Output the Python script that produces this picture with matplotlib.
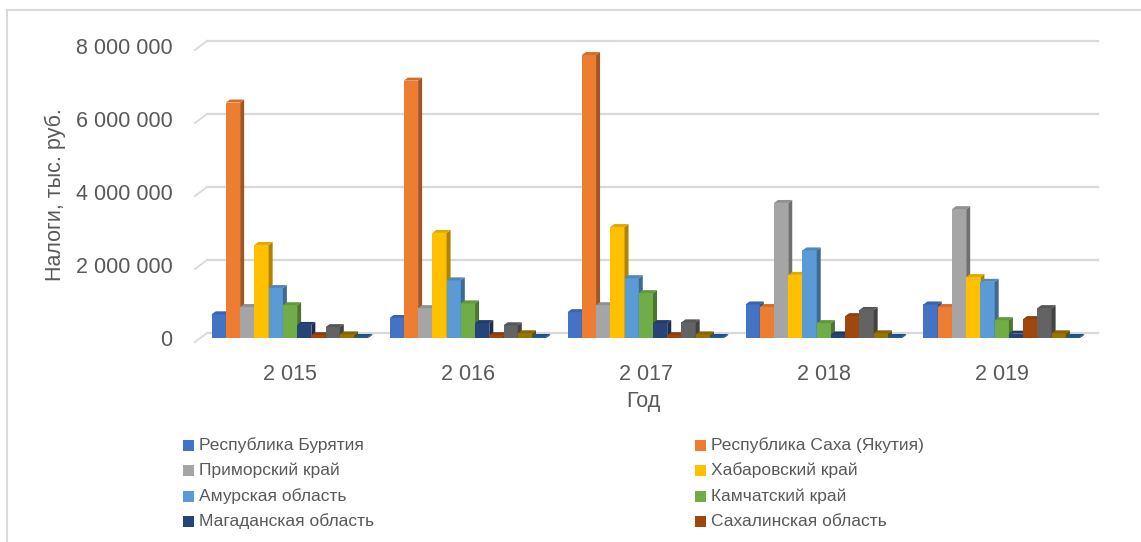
import matplotlib.pyplot as plt
import matplotlib.colors as mcolors
from matplotlib.patches import Polygon
from matplotlib.lines import Line2D
from matplotlib.ticker import FuncFormatter

plt.rcParams['font.family'] = ['Liberation Sans', 'DejaVu Sans']

# налоги по регионам, тыс. руб.
years = [2015, 2016, 2017, 2018, 2019]
regions = ['Республика Бурятия', 'Республика Саха (Якутия)', 'Приморский край',
           'Хабаровский край', 'Амурская область', 'Камчатский край',
           'Магаданская область', 'Сахалинская область',
           'Еврейская автономная область', 'Чукотский автономный округ',
           'Забайкальский край']
buryatia = [650000, 550000, 710000, 920000, 920000]
sakha = [6450000, 7050000, 7750000, 850000, 850000]
primorsky = [850000, 820000, 900000, 3700000, 3530000]
khabarovsk = [2550000, 2880000, 3040000, 1730000, 1670000]
amur = [1370000, 1580000, 1640000, 2400000, 1540000]
kamchatka = [900000, 950000, 1230000, 410000, 490000]
magadan = [360000, 410000, 410000, 100000, 120000]
sakhalin = [80000, 80000, 80000, 600000, 520000]
eao = [300000, 350000, 430000, 770000, 820000]
chukotka = [100000, 130000, 100000, 130000, 130000]
zabaikalsky = [30000, 30000, 30000, 30000, 30000]
series = [buryatia, sakha, primorsky, khabarovsk, amur, kamchatka,
          magadan, sakhalin, eao, chukotka, zabaikalsky]
colors = ['#4472C4', '#ED7D31', '#A5A5A5', '#FFC000', '#5B9BD5', '#70AD47',
          '#264478', '#9E480E', '#636363', '#997300', '#255E91']
n_legend = 8

W, H = 1141, 542
fig = plt.figure(figsize=(W / 100, H / 100), dpi=100)

# область построения в пикселях
left_px, right_px, top_px, bottom_px = 185, 1105, 35, 345
ax = fig.add_axes([left_px / W, 1 - bottom_px / H,
                   (right_px - left_px) / W, (bottom_px - top_px) / H])
xmin, xmax = -0.59, 4.58
ymin, ymax = -0.19e6, 8.30e6
ax.set_xlim(xmin, xmax)
ax.set_ylim(ymin, ymax)
px_x = (xmax - xmin) / (right_px - left_px)   # единиц x на пиксель
px_y = (ymax - ymin) / (bottom_px - top_px)   # единиц y на пиксель

for s in ax.spines.values():
    s.set_visible(False)
ax.tick_params(length=0, colors='#595959', labelsize=15.5)
ax.tick_params(axis='y', pad=9)
ax.tick_params(axis='x', pad=14)

# задняя стенка: сетка и наклонные засечки
grid_vals = [0, 2e6, 4e6, 6e6, 8e6]
back_dx, back_dy = 12 * px_x, 5 * px_y
for g in grid_vals:
    ax.add_line(Line2D([xmin + 10 * px_x + back_dx, 4.54], [g + back_dy, g + back_dy],
                       color='#d9d9d9', lw=1.6, zorder=1))
    ax.add_line(Line2D([xmin + 10 * px_x, xmin + 10 * px_x + back_dx],
                       [g - 4 * px_y, g + back_dy], color='#d9d9d9', lw=1.3, zorder=1))

ax.set_yticks(grid_vals)
ax.yaxis.set_major_formatter(FuncFormatter(lambda v, p: f'{int(v):,}'.replace(',', ' ')))
ax.set_xticks(range(len(years)))
ax.set_xticklabels([f'{y:,}'.replace(',', ' ') for y in years])

# объёмные столбцы
w = 0.08
ddx, ddy = 4 * px_x, 3 * px_y
nser = len(series)
for i, (vals, c) in enumerate(zip(series, colors)):
    base = mcolors.to_rgb(c)
    side = tuple(v * 0.68 for v in base)
    top = tuple(v * 0.88 for v in base)
    for j, v in enumerate(vals):
        x0 = j + (i - (nser - 1) / 2) * w - w / 2
        x1 = x0 + w
        z = 2 + i * 0.1
        ax.add_patch(Polygon([(x0, 0), (x1, 0), (x1, v), (x0, v)],
                             closed=True, fc=c, ec='none', zorder=z))
        ax.add_patch(Polygon([(x1, 0), (x1 + ddx, ddy), (x1 + ddx, v + ddy), (x1, v)],
                             closed=True, fc=side, ec='none', zorder=z))
        ax.add_patch(Polygon([(x0, v), (x0 + ddx, v + ddy), (x1 + ddx, v + ddy), (x1, v)],
                             closed=True, fc=top, ec='none', zorder=z))

# подписи осей
fig.text(55 / W, 1 - 195 / H, 'Налоги, тыс. руб.', rotation=90, ha='center', va='center',
         fontsize=15.5, color='#595959')
fig.text(643 / W, 1 - 402 / H, 'Год', ha='center', va='center', fontsize=15.5, color='#595959')

# легенда в две колонки
col_x = [188, 700]
row_y = [445, 470, 496, 521]
sq = 11
for k in range(n_legend):
    cx = col_x[k % 2]
    cy = row_y[k // 2]
    fig.patches.append(plt.Rectangle(((cx - sq / 2) / W, 1 - (cy + sq / 2) / H), sq / W, sq / H,
                                     transform=fig.transFigure, fc=colors[k], ec='none'))
    fig.text((cx + 11) / W, 1 - cy / H, regions[k], ha='left', va='center',
             fontsize=12.5, color='#595959')

# рамка диаграммы
fig.add_artist(Line2D([7 / W, 7 / W], [0, 1 - 10 / H], color='#d9d9d9', lw=1.5,
                      transform=fig.transFigure))
fig.add_artist(Line2D([7 / W, 1], [1 - 10 / H, 1 - 10 / H], color='#d9d9d9', lw=1.5,
                      transform=fig.transFigure))

fig.savefig('out.png', dpi=100, facecolor='white')
